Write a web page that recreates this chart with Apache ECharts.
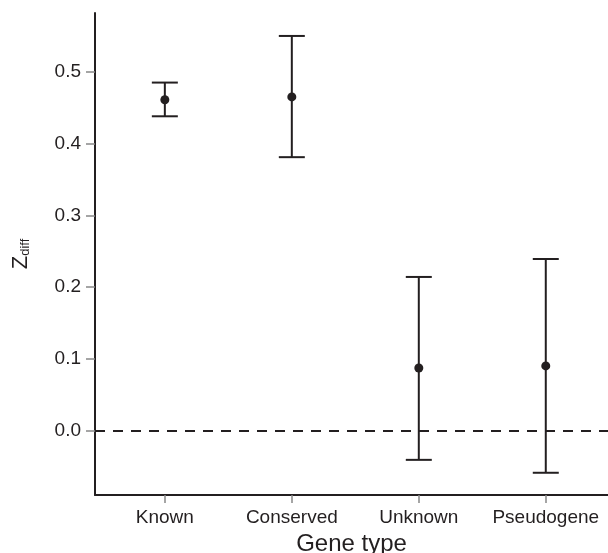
<!DOCTYPE html>
<html lang="en">
  <head>
    <meta charset="utf-8" />
    <title>Zdiff by gene type</title>
    <script
      type="text/javascript"
      src="https://cdn.jsdelivr.net/npm/echarts@6/dist/echarts.min.js"
    ></script>
    <style type="text/css">
      * {
        margin: 0;
        padding: 0;
      }
      html,
      body,
      #chart {
        width: 100%;
        height: 100%;
        overflow: hidden;
        background: #fff;
      }
    </style>
  </head>
  <body>
    <div id="chart"></div>
    <script type="text/javascript">
      // values
      var geneTypes = ["Known", "Conserved", "Unknown", "Pseudogene"];
      var means = [0.461, 0.465, 0.087, 0.09];
      var lower = [0.438, 0.381, -0.041, -0.059];
      var upper = [0.485, 0.55, 0.214, 0.239];
      var yTicks = [0, 0.1, 0.2, 0.3, 0.4, 0.5];

      var ink = "#231f20";
      var font = "Liberation Sans, Arial, Helvetica, sans-serif";

      var chart = echarts.init(document.getElementById("chart"));

      var barData = geneTypes.map(function (g, i) {
        return [i + 1, lower[i], upper[i]];
      });
      var pointData = geneTypes.map(function (g, i) {
        return [i + 1, means[i]];
      });

      chart.setOption({
        animation: false,
        grid: {
          left: 95,
          right: 0,
          top: 13,
          bottom: 58,
          containLabel: false,
          outerBoundsMode: "none",
        },
        xAxis: {
          type: "value",
          min: 0.45,
          max: 4.49,
          name: "Gene type",
          nameLocation: "middle",
          nameGap: 35,
          nameTextStyle: { color: ink, fontSize: 24, fontFamily: font },
          splitLine: { show: false },
          axisLine: { onZero: false, lineStyle: { color: ink, width: 2 } },
          axisTick: {
            customValues: [1, 2, 3, 4],
            length: 8,
            lineStyle: { color: "#888", width: 1.5 },
          },
          axisLabel: {
            customValues: [1, 2, 3, 4],
            margin: 13,
            color: ink,
            fontSize: 19,
            fontFamily: font,
            formatter: function (v) {
              return geneTypes[Math.round(v) - 1];
            },
          },
        },
        yAxis: {
          type: "value",
          min: -0.09,
          max: 0.582,
          name: "{z|Z}{s|diff}",
          nameLocation: "middle",
          nameRotate: 90,
          nameGap: 63,
          nameTextStyle: {
            color: ink,
            fontFamily: font,
            rich: {
              z: { fontSize: 22, color: ink, fontFamily: font },
              s: {
                fontSize: 13,
                color: ink,
                fontFamily: font,
                padding: [10, 0, 0, 0],
              },
            },
          },
          splitLine: { show: false },
          axisLine: { show: true, lineStyle: { color: ink, width: 2 } },
          axisTick: {
            show: true,
            customValues: yTicks,
            length: 9,
            lineStyle: { color: "#888", width: 1.5 },
          },
          axisLabel: {
            customValues: yTicks,
            margin: 14,
            color: ink,
            fontSize: 19,
            fontFamily: font,
            formatter: function (v) {
              return v.toFixed(1);
            },
          },
        },
        series: [
          {
            type: "custom",
            data: barData,
            renderItem: function (params, api) {
              var x = api.value(0);
              var lo = api.coord([x, api.value(1)]);
              var hi = api.coord([x, api.value(2)]);
              var half = 13;
              var style = { stroke: ink, lineWidth: 2 };
              return {
                type: "group",
                children: [
                  {
                    type: "line",
                    shape: { x1: lo[0], y1: lo[1], x2: hi[0], y2: hi[1] },
                    style: style,
                  },
                  {
                    type: "line",
                    shape: {
                      x1: hi[0] - half,
                      y1: hi[1],
                      x2: hi[0] + half,
                      y2: hi[1],
                    },
                    style: style,
                  },
                  {
                    type: "line",
                    shape: {
                      x1: lo[0] - half,
                      y1: lo[1],
                      x2: lo[0] + half,
                      y2: lo[1],
                    },
                    style: style,
                  },
                ],
              };
            },
            markLine: {
              silent: true,
              symbol: "none",
              label: { show: false },
              lineStyle: { color: ink, width: 2, type: [10, 8] },
              data: [{ yAxis: 0 }],
            },
          },
          {
            type: "scatter",
            data: pointData,
            symbolSize: 9,
            itemStyle: { color: ink, opacity: 1 },
            z: 3,
          },
        ],
      });
    </script>
  </body>
</html>
